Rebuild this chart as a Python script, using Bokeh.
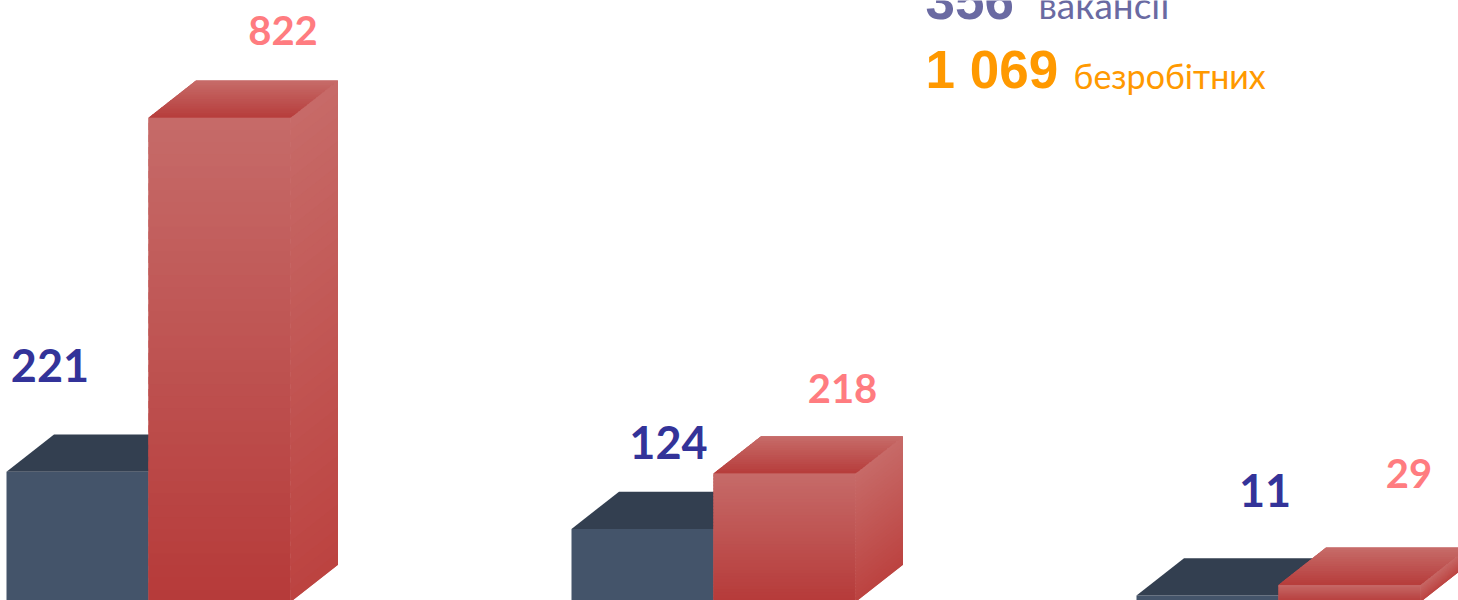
from bokeh.plotting import figure
from bokeh.models import Range1d, ColumnDataSource
from bokeh.core.properties import value
from bokeh.embed import file_html
from bokeh.resources import INLINE

# ---------------- data ----------------
vacancies = [221, 124, 11]          # dark bars (вакансії)
unemployed = [822, 218, 29]         # red bars (безробітних)
legend_words = ["вакансії", "безробітних"]
vac_total = sum(vacancies)          # 356
unemp_total = sum(unemployed)       # 1 069

# ---------------- layout / style ----------------
W, H = 1458, 600
SX = 565.0      # px per group
SY = 0.589      # px per unit
X0 = -148 / SX
X1 = X0 + W / SX
Y0 = (601.5 - H) / SY
Y1 = Y0 + H / SY


def px(xp):
    return X0 + xp / SX


def py(yp):
    return Y1 - yp / SY


BAR_W = 142 / SX
DX = 47.5 / SX
DY = 37.3 / SY

DARK_FRONT = "#44546A"
DARK_TOP = "#333F50"
DARK_SIDE = "#2B3545"
RED_FRONT_TOP, RED_FRONT_BOT = (198, 107, 105), (182, 58, 57)
RED_TOP_BACK, RED_TOP_FRONT = (198, 108, 105), (183, 60, 59)
RED_SIDE_TOP, RED_SIDE_BOT = (199, 107, 104), (188, 66, 64)

# label offsets in px (ink centre relative to bar front-top / group split)
DARK_LAB_DX = [-98.5, -45, -13.5]
DARK_LAB_DY = [-106.8, -86.8, -105.0]
RED_LAB_DX = [134.5, 129, 130.5]
RED_LAB_DY = [-87.3, -85.1, -111.9]


def lerp(c0, c1, t):
    return "#%02x%02x%02x" % tuple(int(round(a + (b - a) * t)) for a, b in zip(c0, c1))


xs, ys, cs = [], [], []


def add(x, y, c):
    xs.append(x)
    ys.append(y)
    cs.append(c)


N = 40
for i in range(len(vacancies)):
    # dark bar
    x0, x1 = i - BAR_W, i
    v = vacancies[i]
    add([x0, x1, x1, x0], [0, 0, v, v], DARK_FRONT)
    add([x1, x1 + DX, x1 + DX, x1], [0, DY, v + DY, v], DARK_SIDE)
    add([x0, x1, x1 + DX, x0 + DX], [v, v, v + DY, v + DY], DARK_TOP)
    # red bar
    x0, x1 = i, i + BAR_W
    v = unemployed[i]
    # solid underlays
    add([x0, x1, x1, x0], [0, 0, v, v], lerp(RED_FRONT_BOT, RED_FRONT_TOP, 0.5))
    add([x1, x1 + DX, x1 + DX, x1], [0, DY, v + DY, v], lerp(RED_SIDE_BOT, RED_SIDE_TOP, 0.5))
    add([x0, x1, x1 + DX, x0 + DX], [v, v, v + DY, v + DY], lerp(RED_TOP_FRONT, RED_TOP_BACK, 0.5))
    for k in range(N):
        t0, t1 = k / N, min(1.0, (k + 1.6) / N)
        c = lerp(RED_FRONT_BOT, RED_FRONT_TOP, (k + 0.5) / N)
        add([x0, x1, x1, x0], [v * t0, v * t0, v * t1, v * t1], c)
    for k in range(N):
        t0, t1 = k / N, min(1.0, (k + 1.6) / N)
        c = lerp(RED_SIDE_BOT, RED_SIDE_TOP, (k + 0.5) / N)
        ya, yb = v * t0, v * t1
        add([x1, x1 + DX, x1 + DX, x1], [ya, ya + DY, yb + DY, yb], c)
    M = 16
    for k in range(M):
        t0, t1 = k / M, min(1.0, (k + 1.6) / M)
        c = lerp(RED_TOP_FRONT, RED_TOP_BACK, (k + 0.5) / M)
        add([x0 + t0 * DX, x1 + t0 * DX, x1 + t1 * DX, x0 + t1 * DX],
            [v + t0 * DY, v + t0 * DY, v + t1 * DY, v + t1 * DY], c)

p = figure(width=W, height=H, output_backend="svg", toolbar_location=None,
           x_range=Range1d(X0, X1), y_range=Range1d(Y0, Y1), min_border=0)
p.axis.visible = False
p.xgrid.visible = False
p.ygrid.visible = False
p.outline_line_color = None
p.background_fill_color = "white"
p.border_fill_color = "white"

p.patches(xs="xs", ys="ys", fill_color="c", line_color=None,
          source=ColumnDataSource(dict(xs=xs, ys=ys, c=cs)))

idx = list(range(len(vacancies)))
p.text(x="x", y="y", text="t", x_offset="xo", y_offset="yo",
       source=ColumnDataSource(dict(x=idx, y=vacancies, t=[str(v) for v in vacancies],
                                    xo=DARK_LAB_DX, yo=DARK_LAB_DY)),
       text_font=value("Lato"), text_font_style="bold", text_font_size="45px",
       text_color="#333399", text_align="center", text_baseline="middle")
p.text(x="x", y="y", text="t", x_offset="xo", y_offset="yo",
       source=ColumnDataSource(dict(x=idx, y=unemployed, t=[str(v) for v in unemployed],
                                    xo=RED_LAB_DX, yo=RED_LAB_DY)),
       text_font=value("Lato"), text_font_style="bold", text_font_size="40px",
       text_color="#FF7C80", text_align="center", text_baseline="middle")


def fmt(n):
    return f"{n:,}".replace(",", " ")


# totals legend (top right)
p.text(x=[px(925), px(925)], y=[py(0), py(68.5)], text=[fmt(vac_total), fmt(unemp_total)],
       text_color=["#6A6AA2", "#FF9900"], text_font=value("Liberation Sans"),
       text_font_style="bold", text_font_size="53px", text_baseline="middle")
p.text(x=[px(1038), px(1073)], y=[py(4), py(75)], text=legend_words,
       text_color=["#6A6AA2", "#FF9900"], text_font=value("Lato"),
       text_font_size=["37px", "34px"], text_baseline="middle")

open("out.html", "w").write(file_html(p, INLINE))
